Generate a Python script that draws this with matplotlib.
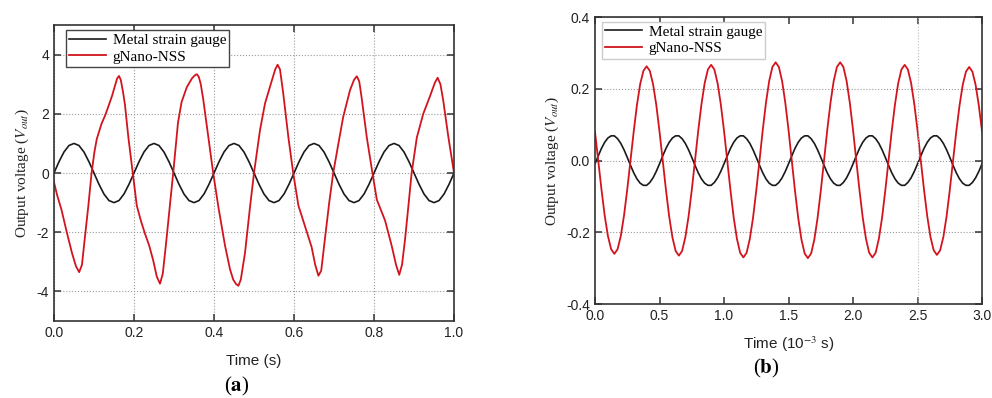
import numpy as np
import matplotlib
matplotlib.use("Agg")
import matplotlib.pyplot as plt

plt.rcParams['font.family'] = ['Liberation Sans', 'DejaVu Sans']
plt.rcParams['mathtext.fontset'] = 'stix'
plt.rcParams['axes.unicode_minus'] = False

# ---- panel (a): time in s ----
t_metal_a = np.linspace(0, 1.0, 81)
one_period_a = [0, 0.38, 0.71, 0.93, 1.0, 0.93, 0.71, 0.38,
                0, -0.38, -0.71, -0.93, -1.0, -0.93, -0.71, -0.38]
metal_a = one_period_a * 5 + [0]

t_red_a = [0, 0.008, 0.019, 0.032, 0.045, 0.055, 0.063, 0.070, 0.0775, 0.086,
           0.094, 0.101, 0.107, 0.119, 0.128, 0.136, 0.145, 0.1525, 0.158, 0.1625,
           0.167, 0.1725, 0.1775, 0.186, 0.197, 0.207, 0.217, 0.2275, 0.238, 0.248,
           0.257, 0.265, 0.272, 0.28, 0.289, 0.298, 0.31, 0.319, 0.332, 0.345,
           0.352, 0.357, 0.362, 0.367, 0.373, 0.386, 0.398, 0.411, 0.4275, 0.44,
           0.448, 0.455, 0.461, 0.467, 0.4775, 0.49, 0.5, 0.515, 0.5275, 0.544,
           0.553, 0.559, 0.565, 0.573, 0.586, 0.598, 0.611, 0.6275, 0.644, 0.653,
           0.661, 0.668, 0.6775, 0.688, 0.698, 0.711, 0.723, 0.74, 0.75, 0.757,
           0.763, 0.769, 0.782, 0.796, 0.807, 0.8275, 0.844, 0.855, 0.863, 0.87,
           0.8775, 0.886, 0.894, 0.907, 0.923, 0.94, 0.952, 0.959, 0.966, 0.973,
           0.986, 1.0]
red_a = [-0.31, -0.75, -1.25, -2.0, -2.7, -3.15, -3.35, -3.1, -2.15, -1.1,
         0.0, 0.7, 1.15, 1.67, 1.95, 2.25, 2.6, 2.95, 3.2, 3.28,
         3.15, 2.75, 2.3, 1.2, 0.0, -1.1, -1.6, -2.05, -2.45, -2.95,
         -3.5, -3.74, -3.4, -2.4, -1.2, 0.0, 1.7, 2.4, 2.9, 3.2,
         3.3, 3.34, 3.25, 3.0, 2.5, 1.2, 0.0, -1.15, -2.45, -3.25,
         -3.6, -3.75, -3.81, -3.6, -2.7, -1.15, 0.0, 1.45, 2.35, 3.1,
         3.5, 3.66, 3.5, 2.7, 1.2, 0.0, -1.1, -1.8, -2.5, -3.1,
         -3.47, -3.3, -2.2, -1.0, 0.0, 1.0, 1.9, 2.8, 3.15, 3.27,
         3.1, 2.55, 1.2, 0.0, -0.9, -1.6, -2.45, -3.1, -3.44, -3.1,
         -2.25, -1.1, 0.0, 1.2, 2.0, 2.6, 3.05, 3.22, 3.0, 2.45,
         1.2, 0.0]

# ---- panel (b): time in 10^-3 s ----
t_b = np.linspace(0, 3.0, 121)
one_period_b = [-0.009, 0.013, 0.034, 0.051, 0.063, 0.069, 0.069, 0.061, 0.048, 0.030,
                0.009, -0.013, -0.034, -0.051, -0.063, -0.069, -0.069, -0.061, -0.048, -0.030]
metal_b = one_period_b * 6 + [-0.009]

red_b = [0.08,
         0, -0.080, -0.153, -0.210, -0.247, -0.260, -0.247, -0.210, -0.153, -0.080,
         0, 0.081, 0.155, 0.213, 0.250, 0.263, 0.250, 0.213, 0.155, 0.081,
         0, -0.082, -0.156, -0.214, -0.252, -0.265, -0.252, -0.214, -0.156, -0.082,
         0, 0.083, 0.157, 0.216, 0.254, 0.267, 0.254, 0.216, 0.157, 0.083,
         0, -0.083, -0.159, -0.218, -0.257, -0.270, -0.257, -0.218, -0.159, -0.083,
         0, 0.085, 0.161, 0.222, 0.261, 0.274, 0.261, 0.222, 0.161, 0.085,
         0, -0.084, -0.160, -0.220, -0.259, -0.272, -0.259, -0.220, -0.160, -0.084,
         0, 0.085, 0.161, 0.222, 0.261, 0.274, 0.261, 0.222, 0.161, 0.085,
         0, -0.083, -0.159, -0.218, -0.257, -0.270, -0.257, -0.218, -0.159, -0.083,
         0, 0.083, 0.157, 0.216, 0.254, 0.267, 0.254, 0.216, 0.157, 0.083,
         0, -0.081, -0.155, -0.213, -0.250, -0.263, -0.250, -0.213, -0.155, -0.081,
         0, 0.081, 0.153, 0.211, 0.248, 0.261, 0.248, 0.211, 0.153, 0.081]

RED = '#d2141e'
serif = ['Liberation Serif', 'DejaVu Serif']

fig = plt.figure(figsize=(9.92, 3.98), dpi=100)
ax1 = fig.add_axes([0.0544, 0.1935, 0.4033, 0.7435])
ax2 = fig.add_axes([0.5998, 0.236, 0.3902, 0.721])


def style(ax):
    for s in ax.spines.values():
        s.set_color('#333333')
        s.set_linewidth(1.2)
    ax.tick_params(direction='in', top=True, right=True, length=5, width=1.1,
                   labelsize=10, colors='#333333', labelcolor='#222222')
    ax.set_ylabel('Output voltage ($V_{out}$)', family=serif, fontsize=11, color='#222222')


def legend(ax, x0, edge):
    leg = ax.legend(loc='upper left', bbox_to_anchor=(x0, 0.983), borderaxespad=0,
                    prop={'family': serif, 'size': 11}, fancybox=False, framealpha=1,
                    edgecolor=edge, handlelength=2.4, handletextpad=0.45,
                    borderpad=0.2, labelspacing=0.2)
    leg.get_frame().set_linewidth(1.0)


# panel (a)
ax1.plot(t_metal_a, metal_a, color='#1a1a1a', lw=1.2, label='Metal strain gauge')
ax1.plot(t_red_a, red_a, color=RED, lw=1.3, label='gNano-NSS', solid_joinstyle='round')
ax1.set_xlim(0, 1.0)
ax1.set_ylim(-5, 5)
ax1.set_xticks([0, 0.2, 0.4, 0.6, 0.8, 1.0])
ax1.set_xticklabels(['0.0', '0.2', '0.4', '0.6', '0.8', '1.0'])
ax1.set_yticks([-4, -2, 0, 2, 4])
ax1.grid(True, linestyle=':', color='#999999', lw=0.8)
style(ax1)
ax1.set_xlabel('Time (s)', fontsize=11, color='#222222', labelpad=10)
legend(ax1, 0.03, '#444444')

# panel (b)
ax2.plot(t_b, metal_b, color='#1a1a1a', lw=1.2, label='Metal strain gauge')
ax2.plot(t_b, red_b, color=RED, lw=1.3, label='gNano-NSS')
ax2.set_xlim(0, 3.0)
ax2.set_ylim(-0.4, 0.4)
ax2.set_xticks([0, 0.5, 1.0, 1.5, 2.0, 2.5, 3.0])
ax2.set_yticks([-0.4, -0.2, 0.0, 0.2, 0.4])
ax2.set_xticklabels(['0.0', '0.5', '1.0', '1.5', '2.0', '2.5', '3.0'])
ax2.set_yticklabels(['-0.4', '-0.2', '0.0', '0.2', '0.4'])
ax2.yaxis.grid(True, linestyle=':', color='#999999', lw=0.8)
ax2.axvline(2.5, linestyle=':', color='#bbbbbb', lw=0.8)
style(ax2)
ax2.set_xlabel('Time (10$^{-3}$ s)', fontsize=11, color='#222222', labelpad=8)
legend(ax2, 0.018, '#cccccc')

fig.text(0.239, 0.03, r'($\mathbf{a}$)', family=serif, fontsize=15, ha='center', va='center')
fig.text(0.772, 0.073, r'($\mathbf{b}$)', family=serif, fontsize=15, ha='center', va='center')

fig.savefig('out.png', dpi=100)
